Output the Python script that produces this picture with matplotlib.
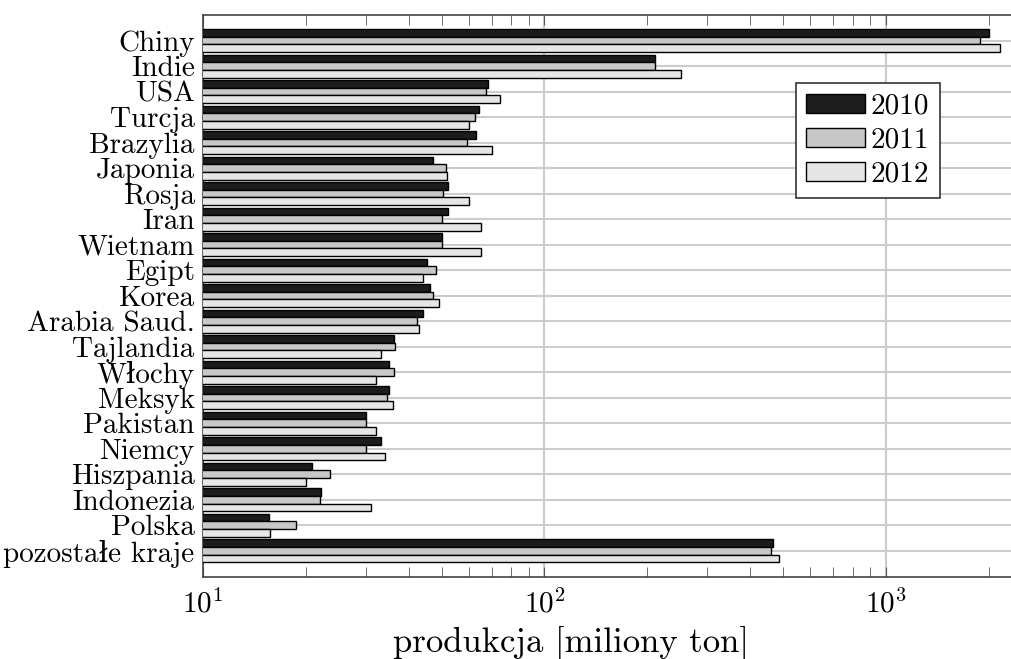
import numpy as np
import matplotlib
matplotlib.use('Agg')
import matplotlib.pyplot as plt
import matplotlib.ticker as mticker

plt.rcParams['font.family'] = ['cmr10', 'DejaVu Serif']
plt.rcParams['mathtext.fontset'] = 'cm'
plt.rcParams['axes.formatter.use_mathtext'] = True

kraje = ['Chiny', 'Indie', 'USA', 'Turcja', 'Brazylia', 'Japonia', 'Rosja',
         'Iran', 'Wietnam', 'Egipt', 'Korea', 'Arabia Saud.', 'Tajlandia',
         'Włochy', 'Meksyk', 'Pakistan', 'Niemcy', 'Hiszpania', 'Indonezia',
         'Polska', 'pozostałe kraje']

# produkcja cementu [mln ton]
prod_2010 = [2000, 210, 68.5, 64.2, 62.9, 47.2, 52.2, 52.2, 50.1, 45.2, 46.2,
             44.2, 36.2, 35.1, 35.1, 30.1, 33.2, 20.8, 22.1, 15.6, 466]
prod_2011 = [1880, 210, 67.2, 62.7, 59.2, 51.5, 50.3, 50.1, 50.1, 48.0, 47.3,
             42.3, 36.6, 36.3, 34.6, 30.0, 30.0, 23.6, 22.0, 18.7, 462]
prod_2012 = [2160, 251, 74.1, 60.0, 70.0, 51.9, 60.1, 65.1, 65.2, 44.1, 49.1,
             43.0, 33.1, 32.0, 36.1, 32.1, 34.1, 20.0, 31.1, 15.7, 485]
lata = ['2010', '2011', '2012']
kolory = ['#1c1c1c', '#c8c8c8', '#e6e6e6']

W, H = 1012, 659
fig = plt.figure(figsize=(W / 100, H / 100), dpi=100)
ax = fig.add_axes([203 / W, 1 - 577 / H, (1016 - 203) / W, (577 - 15) / H])

y = np.arange(len(kraje))
h = 0.3
for k, (serie, rok, kol) in enumerate(zip([prod_2010, prod_2011, prod_2012], lata, kolory)):
    ax.barh(y + (k - 1) * h, serie, height=h, color=kol, edgecolor='black',
            linewidth=1.0, label=rok, zorder=3)

ax.set_xscale('log')
ax.set_xlim(10, 10 ** (1 + (1016 - 203) / 341.5))
ax.set_ylim(len(kraje) - 1 + 1.03, -1.0)

ax.set_yticks(y)
ax.set_yticklabels(kraje, fontsize=21)
ax.tick_params(axis='y', length=0, pad=6)

ax.xaxis.set_major_locator(mticker.LogLocator(base=10))
ax.xaxis.set_minor_locator(mticker.LogLocator(base=10, subs=np.arange(2, 10)))
ax.tick_params(axis='x', which='both', direction='in', top=True, bottom=True,
               labelsize=21, pad=9, color='#555555')
ax.tick_params(axis='x', which='major', length=7)
ax.tick_params(axis='x', which='minor', length=7, labelbottom=False)

ax.grid(True, which='major', axis='both', color='#cccccc', linewidth=1.5, zorder=0)
ax.set_axisbelow(True)
for s in ax.spines.values():
    s.set_color('#444444')
    s.set_linewidth(1.2)

ax.set_xlabel('produkcja [miliony ton]', fontsize=25)
ax.xaxis.set_label_coords((571 - 203) / (1016 - 203), (577 - 626) / (577 - 15))

leg = ax.legend(loc='upper left', bbox_to_anchor=(796 / W, 1 - 83 / H),
                bbox_transform=fig.transFigure, borderaxespad=0, fontsize=21,
                fancybox=False, framealpha=1, edgecolor='#333333',
                handlelength=2.0, handleheight=0.65, handletextpad=0.2,
                labelspacing=0.26, borderpad=0.36)
leg.get_frame().set_linewidth(1.2)

fig.savefig('out.png', dpi=100)
